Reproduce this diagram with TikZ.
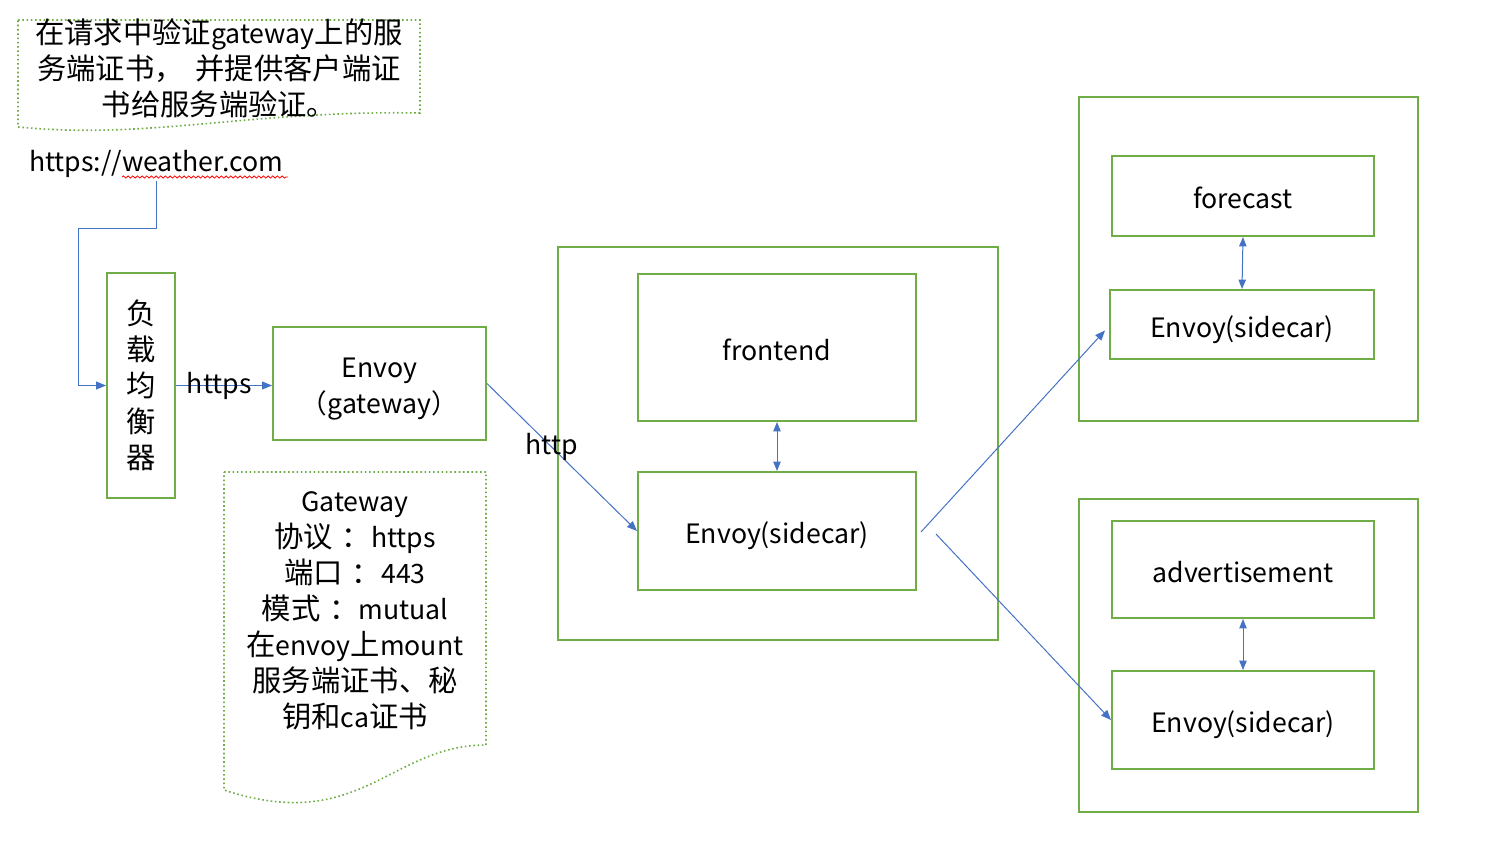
\documentclass[tikz,border=0pt]{standalone}
\usepackage{fontspec}
\setmainfont{Noto Sans CJK SC}
\usetikzlibrary{arrows.meta,decorations.pathmorphing}
\definecolor{boxgreen}{HTML}{70AD47}
\definecolor{linkblue}{HTML}{4472C4}
\newcommand\en[1]{{\fontsize{20}{27}\selectfont #1}}
\begin{document}
\begin{tikzpicture}[x=0.75pt, y=-0.75pt,
    label/.style = {align=center, inner sep=2pt, font=\fontsize{20}{27}\selectfont},
    cjk/.style = {align=center, inner sep=2pt, font=\fontsize{22}{27}\selectfont},
    box/.style = {draw=boxgreen, line width=1.5pt, inner sep=0pt},
    tag/.style = {label, box, text height=1.95em, text depth=0.06em},
    pod/.style = {draw=boxgreen, line width=1.5pt},
    note/.style = {draw=boxgreen, line width=1.2pt, dotted},
    link/.style = {draw=linkblue, line width=0.75pt, -{Triangle[length=7.5pt,width=6pt]}},
    both/.style = {link, {Triangle[length=7pt,width=5.5pt]}-{Triangle[length=7pt,width=5.5pt]}}]
    \useasboundingbox (0,0) rectangle (1490,846);
    \draw[note] (18,20) -- (420,20) -- (420,113) .. controls (250,110) and (150,140) .. (18,127) -- cycle;
    \node[cjk] (tip) at (219,68) {在请求中验证\en{gateway}上的服\\务端证书，\hspace{0.4em}并提供客户端证\\书给服务端验证。};
    \node[label] (url) at (156,164) {https://weather.com};
    \draw[red, line width=0.6pt, decorate, decoration={snake, amplitude=0.8pt, segment length=3.5pt}] (122,177) -- (288,177);
    \node[cjk, box, minimum width=51pt, minimum height=168.75pt] (lb) at (141,385.5) {负\\载\\均\\衡\\器};
    \node[box, minimum width=159.75pt, minimum height=84.75pt] (gw) at (379.5,383.5) {};
    \node[label] (gwtext) at (379.5,389) {Envoy\\（gateway）};
    \draw[note] (224,472) -- (486,472) -- (486,745) .. controls (390,745) and (360,835) .. (224,790) -- cycle;
    \node[cjk] (gwinfo) at (355,611) {\en{Gateway}\\协议\hspace{0.3em}：\en{https}\\端口\hspace{0.3em}：\en{443}\\模式\hspace{0.3em}：\en{mutual}\\在\en{envoy}上\en{mount}\\服务端证书、秘\\钥和\en{ca}证书};
    \draw[pod] (558,247) rectangle (998,640);
    \node[tag, minimum width=208.5pt, minimum height=110.25pt] (fe) at (777,347.5) {frontend};
    \node[tag, minimum width=208.5pt, minimum height=88.5pt] (fesc) at (777,531) {Envoy(sidecar)};
    \draw[pod] (1079,97) rectangle (1418,421);
    \node[tag, minimum width=196.5pt, minimum height=60pt] (fc) at (1243,196) {forecast};
    \node[tag, minimum width=198pt, minimum height=51.75pt] (fcsc) at (1242,324.5) {Envoy(sidecar)};
    \draw[pod] (1079,499) rectangle (1418,812);
    \node[tag, minimum width=196.5pt, minimum height=72.75pt] (ad) at (1243,569.5) {advertisement};
    \node[tag, minimum width=196.5pt, minimum height=73.5pt] (adsc) at (1243,720) {Envoy(sidecar)};
    \coordinate (out1) at (921,532);
    \coordinate (out2) at (936,534);
    \coordinate (in1) at ([shift={(-4,6)}]fcsc.west);
    \draw[link] (url.south) |- (78,228) |- (lb.west);
    \draw[link] (lb.east) -- (lb.east -| gw.west) node[label, pos=0.45] {https};
    \draw[link] (gw.east) -- (fesc.west) node[label, pos=0.43] {http};
    \draw[both] (fe.south) -- (fesc.north);
    \draw[both] (fc.south) -- (fcsc.north);
    \draw[both] (ad.south) -- (adsc.north);
    \draw[link] (out1) -- (in1);
    \draw[link] (out2) -- (adsc.west);
\end{tikzpicture}
\end{document}
